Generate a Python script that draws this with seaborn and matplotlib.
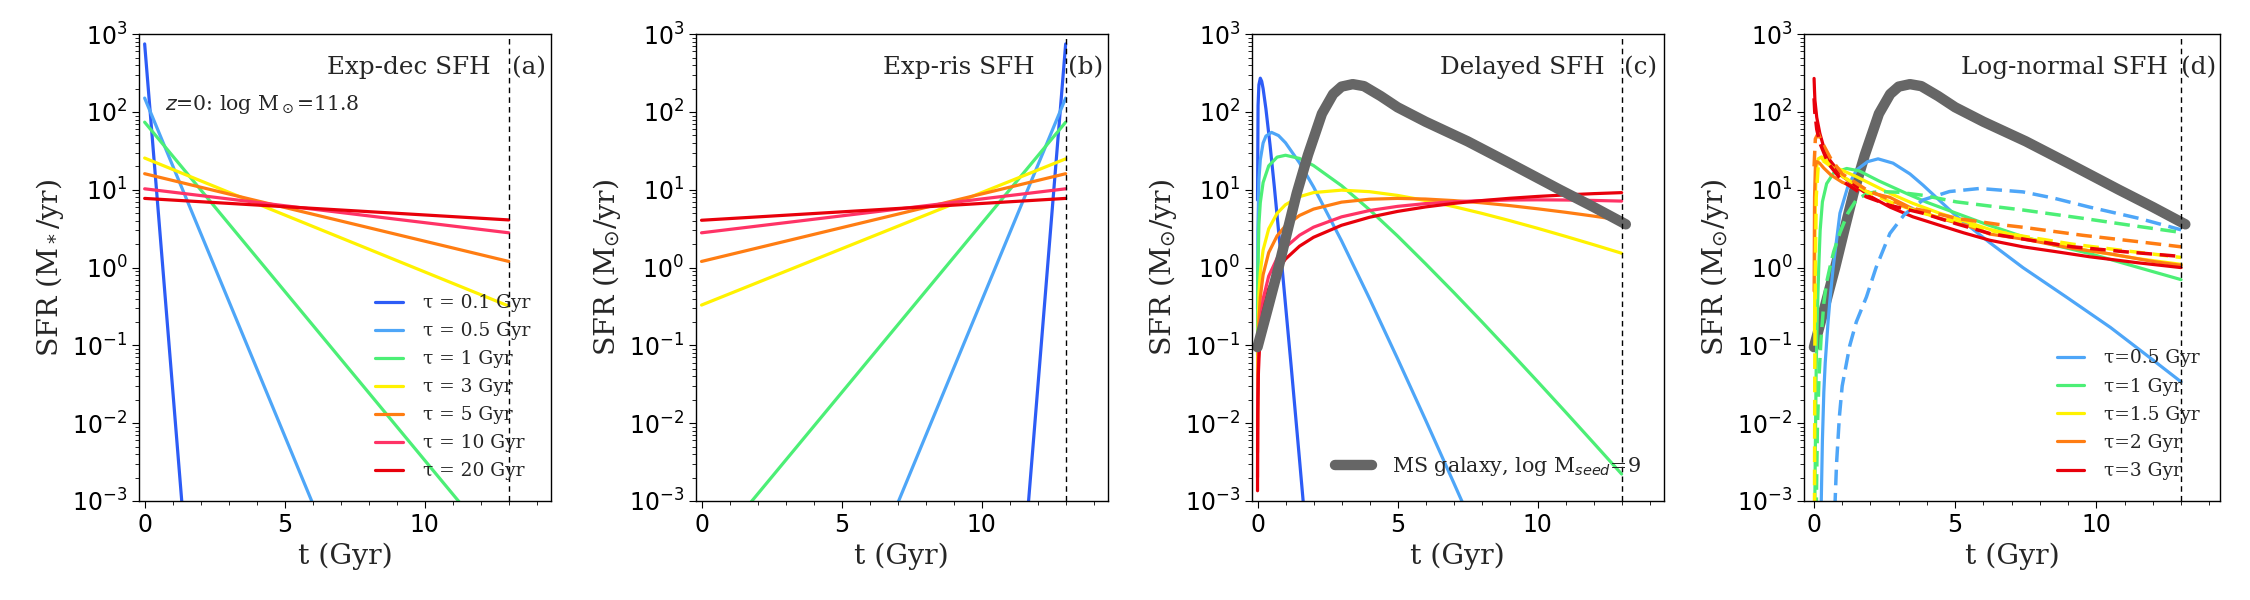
import matplotlib
matplotlib.use("Agg")
import matplotlib.pyplot as plt
from matplotlib.ticker import MultipleLocator
import seaborn as sns
import pandas as pd

# ---------------- data ----------------
T_UNIVERSE = 13.0

# Panel (a): exponentially declining SFH
a_tau_labels = ["τ = 0.1 Gyr", "τ = 0.5 Gyr", "τ = 1 Gyr", "τ = 3 Gyr",
                "τ = 5 Gyr", "τ = 10 Gyr", "τ = 20 Gyr"]
a_t_01 = [0.0, 1.4];   a_sfr_01 = [750, 4.6e-4]
a_t_05 = [0.0, 6.3];   a_sfr_05 = [151, 5.1e-4]
a_t_1 = [0.0, 12.0];   a_sfr_1 = [74, 4.5e-4]
a_t_3 = [0.0, 13.0];   a_sfr_3 = [25.6, 0.32]
a_t_5 = [0.0, 13.0];   a_sfr_5 = [16.1, 1.2]
a_t_10 = [0.0, 13.0];  a_sfr_10 = [10.3, 2.8]
a_t_20 = [0.0, 13.0];  a_sfr_20 = [7.75, 4.1]

# Panel (b): exponentially rising SFH
b_t_01 = [11.6, 13.0]; b_sfr_01 = [4.6e-4, 750]
b_t_05 = [6.7, 13.0];  b_sfr_05 = [5.1e-4, 151]
b_t_1 = [1.0, 13.0];   b_sfr_1 = [4.5e-4, 74]
b_t_3 = [0.0, 13.0];   b_sfr_3 = [0.33, 25]
b_t_5 = [0.0, 13.0];   b_sfr_5 = [1.2, 16.1]
b_t_10 = [0.0, 13.0];  b_sfr_10 = [2.8, 10.3]
b_t_20 = [0.0, 13.0];  b_sfr_20 = [4.06, 7.75]

# Panel (c): delayed SFH
c_t_01 = [0.001, 0.02, 0.05, 0.1, 0.15, 0.2, 0.3, 0.45, 0.6, 0.87, 1.2, 1.5, 1.8]
c_sfr_01 = [7.4, 121, 224, 272, 248, 200, 110, 37, 11, 1.07, 0.055, 3.4e-3, 2.0e-4]
c_t_05 = [0.001, 0.01, 0.05, 0.1, 0.2, 0.3, 0.5, 0.75, 1.0, 1.5, 2.0, 3.0, 4.0, 5.0, 6.0, 7.0, 7.5]
c_sfr_05 = [0.297, 2.92, 13.5, 24.3, 39.9, 49.0, 54.7, 49.8, 40.2, 22.2, 10.9, 2.21, 0.399,
            0.0675, 0.011, 1.73e-3, 6.8e-4]
c_t_1 = [0.001, 0.01, 0.05, 0.1, 0.2, 0.4, 0.7, 1.0, 1.5, 2.0, 3.0, 4.0, 5.0, 6.0, 7.0,
         8.0, 9.0, 10.0, 11.0, 12.0, 13.0]
c_sfr_1 = [0.0756, 0.748, 3.59, 6.84, 12.4, 20.3, 26.3, 27.8, 25.3, 20.5, 11.3, 5.54, 2.55,
           1.12, 0.482, 0.203, 0.0839, 0.0343, 0.0139, 5.57e-3, 2.22e-3]
c_t_3 = [0.001, 0.01, 0.05, 0.1, 0.2, 0.4, 0.7, 1.0, 1.5, 2.0, 3.0, 4.0, 5.0, 6.0, 7.0,
         8.0, 9.0, 10.0, 11.0, 12.0, 13.0]
c_sfr_3 = [8.97e-3, 0.0894, 0.449, 0.87, 1.68, 3.15, 4.99, 6.43, 8.16, 9.21, 9.9, 9.46, 8.47,
           7.28, 6.09, 4.99, 4.02, 3.20, 2.52, 1.97, 1.53]
c_t_5 = [0.001, 0.01, 0.05, 0.1, 0.2, 0.4, 0.7, 1.0, 1.5, 2.0, 3.0, 4.0, 5.0, 6.0, 7.0,
         8.0, 9.0, 10.0, 11.0, 12.0, 13.0]
c_sfr_5 = [4.21e-3, 0.0421, 0.209, 0.413, 0.81, 1.56, 2.56, 3.45, 4.68, 5.65, 6.94, 7.57,
           7.75, 7.61, 7.27, 6.81, 6.27, 5.70, 5.14, 4.59, 4.07]
c_t_10 = [0.001, 0.01, 0.05, 0.1, 0.2, 0.4, 0.7, 1.0, 1.5, 2.0, 3.0, 4.0, 5.0, 6.0, 7.0,
          8.0, 9.0, 10.0, 11.0, 12.0, 13.0]
c_sfr_10 = [2.02e-3, 0.0202, 0.1005, 0.2, 0.396, 0.776, 1.318, 1.827, 2.607, 3.307, 4.489,
            5.415, 6.125, 6.65, 7.02, 7.26, 7.39, 7.43, 7.39, 7.30, 7.16]
c_t_20 = [0.001, 0.003, 0.01, 0.03, 0.05, 0.1, 0.2, 0.4, 0.7, 1.0, 1.5, 2.0, 3.0, 4.0, 5.0,
          6.0, 7.0, 8.0, 9.0, 10.0, 11.0, 12.0, 13.0]
c_sfr_20 = [1.355e-3, 4.06e-3, 0.01354, 0.0406, 0.0676, 0.1348, 0.2683, 0.5312, 0.9152,
            1.289, 1.886, 2.452, 3.499, 4.437, 5.276, 6.023, 6.684, 7.265, 7.775, 8.219,
            8.6, 8.925, 9.197]

# Main-sequence galaxy track (panels c and d)
ms_t = [0.0, 0.4, 0.75, 1.1, 1.4, 1.8, 2.3, 2.7, 3.0, 3.4, 3.8, 4.4, 5.0, 6.0, 7.5, 9.0,
        10.8, 12.0, 13.15]
ms_sfr = [0.095, 0.33, 1.0, 3.3, 9, 28, 95, 170, 212, 228, 215, 160, 115, 75, 42, 22, 10,
          6, 3.6]
ms_label = "MS galaxy, log M$_{seed}$=9"

# Panel (d): log-normal SFH (solid and dashed families)
d_tau_labels = ["τ=0.5 Gyr", "τ=1 Gyr", "τ=1.5 Gyr", "τ=2 Gyr", "τ=3 Gyr"]
d_t_05 = [0.255, 0.3, 0.35, 0.4, 0.45, 0.5, 0.565, 0.68, 0.92, 1.2, 1.51, 1.9, 2.27, 2.8,
          3.4, 3.86, 4.5, 5.04, 6.22, 7.4, 8.93, 10.5, 12.0, 13.0]
d_sfr_05 = [8e-4, 6e-3, 0.025, 0.06, 0.11, 0.2, 0.38, 1.0, 5.0, 11, 18, 23, 25, 22, 16,
            11.5, 7, 4.6, 2.1, 1.0, 0.42, 0.17, 0.065, 0.034]
d_t_1 = [0.03, 0.05, 0.08, 0.12, 0.17, 0.22, 0.3, 0.45, 0.7, 1.16, 1.6, 2.3, 3.27, 4.0,
         5.04, 6.2, 7.4, 8.5, 9.75, 11.5, 13.0]
d_sfr_1 = [8e-4, 5e-3, 0.05, 0.25, 1.0, 3, 7, 12, 16.5, 18.8, 17.5, 13, 9, 6.9, 5.0, 3.5,
           2.5, 1.95, 1.52, 1.0, 0.7]
d_t_15 = [0.02, 0.035, 0.05, 0.08, 0.15, 0.27, 0.5, 0.9, 1.51, 2.0, 2.69, 3.5, 4.45, 5.3,
          6.22, 7.99, 9.75, 11.5, 13.0]
d_sfr_15 = [0.15, 2, 8, 18, 25, 26.5, 23, 18.5, 14.7, 12, 9.0, 6.7, 5.0, 4.0, 3.1, 2.2,
            1.65, 1.3, 1.1]
d_t_2 = [0.005, 0.02, 0.05, 0.1, 0.2, 0.35, 0.6, 1.0, 1.5, 2.0, 2.69, 3.5, 4.45, 5.5, 6.22,
         7.5, 9.0, 10.5, 12.0, 13.0]
d_sfr_2 = [0.5, 8, 20, 23, 22, 19, 15.5, 12.5, 10.5, 9.2, 8.0, 5.7, 4.3, 3.4, 2.7, 2.3, 1.8,
           1.5, 1.2, 1.07]
d_t_3 = [0.005, 0.02, 0.035, 0.1, 0.21, 0.35, 0.565, 1.0, 1.51, 2.0, 2.69, 3.5, 4.45, 5.3,
         6.22, 7.4, 8.58, 9.75, 11.5, 13.0]
d_sfr_3 = [270, 190, 142, 85, 53, 35, 24, 15, 11, 8.2, 6.0, 4.5, 3.5, 2.8, 2.25, 1.85, 1.6,
           1.38, 1.15, 1.0]

dd_t_05 = [0.74, 0.8, 0.9, 1.0, 1.27, 1.5, 1.86, 2.2, 2.69, 3.2, 3.86, 4.8, 5.87, 7.4, 8.5,
           9.75, 11.5, 13.0]
dd_sfr_05 = [8e-4, 3e-3, 0.012, 0.03, 0.1, 0.2, 0.42, 1.0, 2.75, 4.8, 7.4, 9.5, 10.4, 9.4,
             7.8, 6.0, 4.3, 3.06]
dd_t_1 = [0.08, 0.12, 0.18, 0.25, 0.35, 0.45, 0.565, 0.7, 0.92, 1.2, 1.51, 1.9, 2.3, 3.0,
          3.86, 5.04, 6.2, 7.4, 9.52, 11.2, 13.0]
dd_sfr_1 = [7e-4, 8e-3, 0.04, 0.12, 0.35, 0.65, 1.0, 1.6, 2.8, 5, 7.5, 9, 9.5, 9.3, 8.5, 7.0,
            6.2, 5.5, 4.3, 3.5, 2.83]
dd_t_15 = [0.02, 0.03, 0.05, 0.08, 0.15, 0.3, 0.6, 1.0, 1.86, 2.69, 3.86, 5.04, 6.22, 7.5,
           9.16, 11.0, 13.0]
dd_sfr_15 = [8e-4, 0.05, 1.0, 8, 20, 24, 20, 15, 9.5, 7.0, 5.0, 3.9, 3.0, 2.5, 2.0, 1.65, 1.35]
dd_t_2 = [0.005, 0.05, 0.15, 0.3, 0.6, 1.0, 1.86, 2.5, 3.27, 4.0, 5.04, 6.5, 7.4, 9.52,
          11.5, 13.0]
dd_sfr_2 = [20, 45, 53, 40, 25, 16, 10, 8, 6.0, 5.3, 4.3, 3.6, 3.3, 2.6, 2.15, 1.85]
dd_t_3 = [0.005, 0.03, 0.1, 0.21, 0.5, 1.0, 1.86, 2.69, 3.86, 5.0, 6.22, 7.5, 9.16, 11.0, 13.0]
dd_sfr_3 = [150, 100, 60, 40, 22, 13, 8.1, 6.3, 5.0, 3.7, 2.75, 2.3, 1.85, 1.6, 1.39]

# ---------------- styles ----------------
C_BLUE = "#2d5cf6"
C_LBLUE = "#4ea6f8"
C_GREEN = "#4cef76"
C_YELLOW = "#fff200"
C_ORANGE = "#ff7d12"
C_PINK = "#ff3366"
C_RED = "#e8000b"
C_GRAY = "#666666"
seven_colors = [C_BLUE, C_LBLUE, C_GREEN, C_YELLOW, C_ORANGE, C_PINK, C_RED]
five_colors = [C_LBLUE, C_GREEN, C_YELLOW, C_ORANGE, C_RED]

sns.set_style("ticks")
plt.rcParams["font.family"] = ["DejaVu Sans"]
plt.rcParams["mathtext.fontset"] = "dejavusans"
plt.rcParams["xtick.major.size"] = 5
plt.rcParams["ytick.major.size"] = 5
plt.rcParams["xtick.minor.size"] = 3
plt.rcParams["ytick.minor.size"] = 3
plt.rcParams["axes.edgecolor"] = "black"
plt.rcParams["axes.linewidth"] = 1.0
plt.rcParams["xtick.color"] = "black"
plt.rcParams["ytick.color"] = "black"

SERIF = "DejaVu Serif"
LW = 2.3
MS_LW = 7.5
PX = 100 / 72.0  # pixels per point

fig = plt.figure(figsize=(22.5, 6), dpi=100)
renderer = fig.canvas.get_renderer()
ax_w, ax_h, ax_b = 0.1830, 0.778, 0.165
lefts = [0.0618, 0.3093, 0.5564, 0.8018]
axes = [fig.add_axes([l, ax_b, ax_w if i < 3 else 0.1849, ax_h]) for i, l in enumerate(lefts)]


def fitted_size(text, family, target_px, base=14.0):
    probe = fig.text(0, 0, text, family=family, fontsize=base)
    bb = probe.get_window_extent(renderer)
    probe.remove()
    return base * target_px / bb.width


def draw(ax, t, s, color, lw=LW, ls="-"):
    df = pd.DataFrame({"t": t, "sfr": s})
    sns.lineplot(data=df, x="t", y="sfr", ax=ax, color=color, lw=lw, linestyle=ls,
                 errorbar=None, legend=False)
    return ax.lines[-1]


def make_legend(ax, handles, labels, fs, handle_px, pitch_px):
    kw = dict(loc="lower right", frameon=False, prop={"family": SERIF, "size": fs},
              handlelength=handle_px / (fs * PX), handletextpad=20 / (fs * PX),
              borderaxespad=0.72)
    ls = 0.5
    leg = ax.legend(handles, labels, labelspacing=ls, **kw)
    if len(labels) > 1:
        fig.canvas.draw()
        tx = leg.get_texts()
        y0 = tx[0].get_window_extent(renderer)
        y1 = tx[-1].get_window_extent(renderer)
        pitch = ((y0.y0 + y0.y1) - (y1.y0 + y1.y1)) / 2 / (len(labels) - 1)
        ls = ls + (pitch_px - pitch) / (fs * PX)
        leg = ax.legend(handles, labels, labelspacing=ls, **kw)
    return leg


for ax in axes:
    ax.set_yscale("log")

LEG_FS = fitted_size("τ = 0.1 Gyr", SERIF, 108)
TITLE_FS = fitted_size("Exp-dec SFH", SERIF, 164)
Z_FS = fitted_size("$z$=0: log M$_\\odot$=11.8", SERIF, 195)
XL_FS = fitted_size("t (Gyr)", SERIF, 95)
MS_FS = fitted_size(ms_label, SERIF, 250)

# panel a
ax = axes[0]
handles = []
for (t, s), c in zip([(a_t_01, a_sfr_01), (a_t_05, a_sfr_05), (a_t_1, a_sfr_1),
                      (a_t_3, a_sfr_3), (a_t_5, a_sfr_5), (a_t_10, a_sfr_10),
                      (a_t_20, a_sfr_20)], seven_colors):
    handles.append(draw(ax, t, s, c))

# panel b
ax = axes[1]
for (t, s), c in zip([(b_t_01, b_sfr_01), (b_t_05, b_sfr_05), (b_t_1, b_sfr_1),
                      (b_t_3, b_sfr_3), (b_t_5, b_sfr_5), (b_t_10, b_sfr_10),
                      (b_t_20, b_sfr_20)], seven_colors):
    draw(ax, t, s, c)

# panel c
ax = axes[2]
for (t, s), c in zip([(c_t_01, c_sfr_01), (c_t_05, c_sfr_05), (c_t_1, c_sfr_1),
                      (c_t_3, c_sfr_3), (c_t_5, c_sfr_5), (c_t_10, c_sfr_10),
                      (c_t_20, c_sfr_20)], seven_colors):
    draw(ax, t, s, c)
ms_h = draw(ax, ms_t, ms_sfr, C_GRAY, lw=MS_LW)

# panel d
ax = axes[3]
draw(ax, ms_t, ms_sfr, C_GRAY, lw=MS_LW)
d_handles = []
for (t, s), c in zip([(d_t_05, d_sfr_05), (d_t_1, d_sfr_1), (d_t_15, d_sfr_15),
                      (d_t_2, d_sfr_2), (d_t_3, d_sfr_3)], five_colors):
    d_handles.append(draw(ax, t, s, c))
for (t, s), c in zip([(dd_t_05, dd_sfr_05), (dd_t_1, dd_sfr_1), (dd_t_15, dd_sfr_15),
                      (dd_t_2, dd_sfr_2), (dd_t_3, dd_sfr_3)], five_colors):
    draw(ax, t, s, c, lw=2.5, ls=(0, (4.5, 2.2)))

titles = ["Exp-dec SFH", "Exp-ris SFH", "Delayed SFH", "Log-normal SFH"]
title_x = [0.457, 0.454, 0.456, 0.377]
tags = ["(a)", "(b)", "(c)", "(d)"]
tag_x = [0.906, 0.903, 0.903, 0.906]
ylabels = ["SFR (M$_*$/yr)", "SFR (M$_{\\odot}$/yr)", "SFR (M$_{\\odot}$/yr)",
           "SFR (M$_{\\odot}$/yr)"]
xlims = [(-0.2, 14.5), (-0.2, 14.5), (-0.2, 14.5), (-0.35, 14.38)]

for i, ax in enumerate(axes):
    ax.axvline(T_UNIVERSE, color="black", lw=1.0, ls=(0, (4, 3)))
    ax.set_xlim(*xlims[i])
    ax.set_ylim(1e-3, 1e3)
    ax.xaxis.set_major_locator(MultipleLocator(5))
    ax.xaxis.set_minor_locator(MultipleLocator(1))
    ax.tick_params(axis="both", which="major", labelsize=17, direction="out")
    ax.tick_params(axis="both", which="minor", direction="out")
    ax.set_xlabel("t (Gyr)", family=SERIF, fontsize=XL_FS)
    ax.set_ylabel(ylabels[i], family=SERIF, fontsize=XL_FS)
    ax.text(title_x[i], 0.929, titles[i], transform=ax.transAxes, family=SERIF,
            fontsize=TITLE_FS, ha="left", va="center")
    ax.text(tag_x[i], 0.929, tags[i], transform=ax.transAxes, family=SERIF,
            fontsize=TITLE_FS, ha="left", va="center")
    for sp in ax.spines.values():
        sp.set_visible(True)
        sp.set_color("black")

axes[0].text(0.063, 0.85, "$z$=0: log M$_\\odot$=11.8", transform=axes[0].transAxes,
             family=SERIF, fontsize=Z_FS, ha="left", va="center")

make_legend(axes[0], handles, a_tau_labels, LEG_FS, 28, 28)
make_legend(axes[2], [ms_h], [ms_label], MS_FS, 37, 28)
make_legend(axes[3], d_handles, d_tau_labels, LEG_FS, 27, 28.2)

fig.savefig("out.png", dpi=100)
